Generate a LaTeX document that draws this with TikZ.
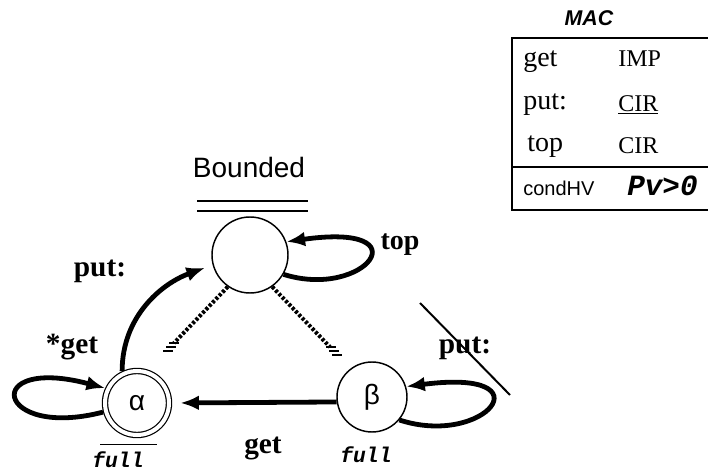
\documentclass[tikz,border=0pt]{standalone}
\usepackage{fontspec}
\setmainfont{Liberation Serif}
\setsansfont{Liberation Sans}
\setmonofont{Liberation Mono}
\usetikzlibrary{arrows.meta, calc}

\begin{document}
\begin{tikzpicture}[
                x=0.75pt, y=-0.75pt,
                >={Latex[length=14pt, width=11pt]},
                stnode/.style={draw, circle, line width=1.1pt, inner sep=0pt, font=\sffamily\fontsize{21}{24}\selectfont},
                trans/.style={->, line width=3.6pt},
                lab/.style={font=\bfseries\fontsize{22}{26}\selectfont, inner sep=0pt},
                tag/.style={font=\ttfamily\bfseries\itshape\fontsize{16}{19}\selectfont, inner sep=0pt},
                link/.style={line width=3pt, dash pattern=on 2.2pt off 1.4pt},
                cell/.style={font=\fontsize{21}{24}\selectfont, anchor=base west, inner sep=0pt},
                val/.style={font=\fontsize{18}{22}\selectfont, anchor=base west, inner sep=0pt}
            ]
            \useasboundingbox (0,0) rectangle (708,471);

            % Nodes (Zustaende)
            \node[stnode, minimum size=57pt] (bnd) at (250,255) {};
            \node[stnode, double, double distance=3pt, line width=0.9pt, outer sep=2.4pt, minimum size=48pt] (alpha) at (137,403) {α};
            \node[stnode, minimum size=52.5pt] (beta) at (372,397) {β};
            \node[font=\sffamily\fontsize{21}{24}\selectfont] (title) at (249,167) {Bounded};
            \draw[line width=1.5pt] ($(bnd.north)+(-53,-5)$) -- ++(111,0);
            \draw[line width=1.5pt] ($(bnd.north)+(-53,-15)$) -- ++(111,0);

            % Labels
            \node[lab] (putl) at (100,271) {put:};
            \node[lab, font=\bfseries\fontsize{21}{24}\selectfont] (topl) at (400,245) {top};
            \node[lab] (getl) at (72,347) {*get};
            \node[lab] (getb) at (263,448) {get};
            \node[lab] (putr) at (465,348) {put:};
            \node[tag] (fulla) at (118,460) {full};
            \node[tag] (fullb) at (366,455) {full};
            \draw[line width=0.6pt] ($(fulla.north)+(-18,-7)$) -- ++(57,0);

            % Edges
            \draw[trans, shorten >=6pt] (alpha.115) to[out=90, in=200] (bnd.195);
            \draw[trans, shorten >=6pt] (beta.188) -- (alpha.east);
            \draw[trans] (alpha.195) .. controls (-5,440) and (-20,355) .. (alpha.155);
            \draw[trans] (bnd.-30) .. controls (365,300) and (425,222) .. (bnd.20);
            \draw[trans] (beta.-40) .. controls (485,448) and (550,368) .. (beta.17);

            % gestrichelte Verbindungen
            \coordinate (la) at (174,343);
            \coordinate (lb) at (330,347);
            \draw[link] (bnd.235) -- (la);
            \draw[link] (bnd.305) -- (lb);
            \foreach \i in {0,1,2} {
                \draw[line width=1.5pt] ($(la)+(-5-3*\i,4*\i)$) -- ++(10,0);
                \draw[line width=1.5pt] ($(lb)+(-4+3*\i,4*\i)$) -- ++(10,0);
            }

            % durchgestrichen
            \coordinate (s1) at (420,303);
            \coordinate (s2) at (510,395);
            \draw[line width=1.5pt] (s1) -- (s2);

            % Tabelle
            \draw[line width=1.3pt] (708,38) -- (512,38) -- (512,210) -- (708,210);
            \draw[line width=2pt] (512,167) -- (708,167);
            \node[font=\sffamily\bfseries\itshape\fontsize{16}{19}\selectfont] (mac) at (589,18) {MAC};
            \node[cell] (c1) at (523,66) {get};
            \node[val] (v1) at (618,66) {IMP};
            \node[cell] (c2) at (523,109) {put:};
            \node[val] (v2) at (618,111) {\underline{CIR}};
            \node[cell] (c3) at (527,151) {top};
            \node[val] (v3) at (618,153) {CIR};
            \node[font=\sffamily\fontsize{15}{18}\selectfont, anchor=base west, inner sep=0pt] (cond) at (523,195) {condHV};
            \node[font=\ttfamily\bfseries\itshape\fontsize{22}{26}\selectfont, anchor=base west, inner sep=0pt] (pv) at (627,195) {Pv>0};
            \end{tikzpicture}
\end{document}
